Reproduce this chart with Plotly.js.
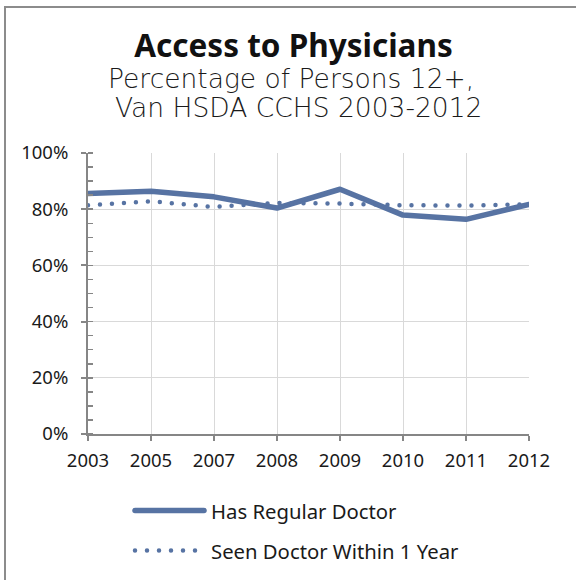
<!DOCTYPE html>
<html>
<head>
<meta charset="utf-8">
<script src="https://cdn.plot.ly/plotly-3.0.1.min.js"></script>
<style>
  html, body { margin: 0; padding: 0; background: #fff; }
  #wrap { position: relative; width: 576px; height: 580px; overflow: hidden; }
  #chart { position: absolute; left: 0; top: 0; width: 576px; height: 580px; }
  #frame { position: absolute; left: 4px; top: 6px; width: 600px; height: 600px;
           border-left: 2px solid #8c8c8c; border-top: 2px solid #8c8c8c; pointer-events: none; }
  /* rounded ends so the dotted series reads as round dots */
  #chart path.js-line, #chart .shapelayer path { stroke-linecap: round; stroke-linejoin: round; }
</style>
</head>
<body>
<div id="wrap">
  <div id="chart"></div>
  <div id="frame"></div>
</div>
<script>
// Survey years (category axis)
const years = ['2003', '2005', '2007', '2008', '2009', '2010', '2011', '2012'];

// Share of persons aged 12+ (%)
const hasRegularDoctor = [85.6, 86.4, 84.4, 80.4, 87.1, 77.9, 76.4, 81.7];
const seenDoctorWithin1Year = [81.4, 82.8, 80.8, 82.2, 82.0, 81.4, 81.3, 81.7];

const seriesNames = ['Has Regular Doctor', 'Seen Doctor Within 1 Year'];
const yTickValues = [0, 20, 40, 60, 80, 100];
const yTickLabels = ['0%', '20%', '40%', '60%', '80%', '100%'];

const W = 576, H = 580;
const M = { l: 88, r: 47, t: 153, b: 146 };
const plotW = W - M.l - M.r, plotH = H - M.t - M.b;
// pixel -> paper coordinates for the hand-drawn legend and subtitle
const px2x = p => (p - M.l) / plotW;
const px2y = p => (H - M.b - p) / plotH;

const lineColor = '#5773a3';
const dotDash = '0px,12px';
const tickFont = { family: 'Noto Sans, sans-serif', size: 18.5, color: '#1a1a1a' };
const legendFont = { family: 'Noto Sans, sans-serif', size: 20.3, color: '#1a1a1a' };
const subFont = { family: 'DejaVu Sans, sans-serif', size: 26.5, color: '#1a1a1a', weight: 300 };

const traces = [
  {
    x: years, y: hasRegularDoctor, name: seriesNames[0],
    type: 'scatter', mode: 'lines',
    line: { color: lineColor, width: 5.5 },
    showlegend: false, hoverinfo: 'skip'
  },
  {
    x: years, y: seenDoctorWithin1Year, name: seriesNames[1],
    type: 'scatter', mode: 'lines',
    line: { color: lineColor, width: 4.5, dash: dotDash },
    showlegend: false, hoverinfo: 'skip'
  }
];

const legendRows = [
  { y: 510.5, x0: 135, x1: 204, dash: 'solid', width: 5.5 },
  { y: 550.5, x0: 135, x1: 198, dash: dotDash, width: 4.5 }
];

const shapes = legendRows.map(r => ({
  type: 'line', xref: 'paper', yref: 'paper',
  x0: px2x(r.x0), x1: px2x(r.x1), y0: px2y(r.y), y1: px2y(r.y),
  line: { color: lineColor, width: r.width, dash: r.dash }
}));

const annotations = legendRows.map((r, i) => ({
  xref: 'paper', yref: 'paper', x: px2x(209), y: px2y(r.y),
  xanchor: 'left', yanchor: 'middle', showarrow: false,
  text: seriesNames[i], font: legendFont
})).concat([
  {
    xref: 'paper', yref: 'paper', x: px2x(291), y: px2y(79),
    xanchor: 'center', yanchor: 'middle', showarrow: false,
    text: 'Percentage of Persons 12+,', font: subFont
  },
  {
    xref: 'paper', yref: 'paper', x: px2x(298), y: px2y(108),
    xanchor: 'center', yanchor: 'middle', showarrow: false,
    text: 'Van HSDA CCHS 2003-2012', font: subFont
  }
]);

const layout = {
  width: W, height: H,
  margin: M,
  paper_bgcolor: 'rgba(0,0,0,0)',
  plot_bgcolor: '#fff',
  title: {
    text: 'Access to Physicians',
    x: 293.5 / W, xanchor: 'center', xref: 'container',
    y: 1 - 45.5 / H, yanchor: 'middle', yref: 'container',
    font: { family: 'Noto Sans, sans-serif', size: 31.5, color: '#111', weight: 700 }
  },
  xaxis: {
    type: 'category', range: [0, years.length - 1],
    showline: true, linecolor: '#868686', linewidth: 2,
    showgrid: true, gridcolor: '#d9d9d9', gridwidth: 1,
    ticks: 'outside', ticklen: 5, tickcolor: '#868686', tickwidth: 2,
    ticklabelstandoff: 4,
    tickfont: tickFont, zeroline: false, fixedrange: true
  },
  yaxis: {
    range: [0, 100],
    tickvals: yTickValues, ticktext: yTickLabels,
    showline: true, linecolor: '#868686', linewidth: 2,
    showgrid: true, gridcolor: '#d9d9d9', gridwidth: 1,
    ticks: 'outside', ticklen: 5, tickcolor: '#868686', tickwidth: 2,
    ticklabelstandoff: 9,
    minor: { dtick: 5, ticks: 'inside', ticklen: 5, tickcolor: '#868686', tickwidth: 1.5, showgrid: false },
    tickfont: tickFont, zeroline: false, fixedrange: true
  },
  shapes: shapes,
  annotations: annotations,
  showlegend: false
};

Plotly.newPlot('chart', traces, layout, { staticPlot: true, displayModeBar: false });
</script>
</body>
</html>
